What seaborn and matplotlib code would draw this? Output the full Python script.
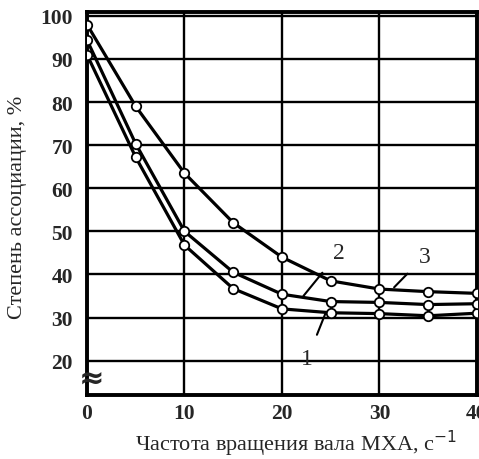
import matplotlib
matplotlib.use("Agg")
import matplotlib.pyplot as plt
import seaborn as sns
import pandas as pd

# Data
speed = [0, 5, 10, 15, 20, 25, 30, 35, 40]
curve1 = [91.0, 67.2, 46.8, 36.7, 32.0, 31.1, 30.9, 30.4, 31.0]
curve2 = [94.4, 70.3, 50.0, 40.5, 35.4, 33.7, 33.5, 33.0, 33.2]
curve3 = [98.0, 79.0, 63.5, 52.0, 44.0, 38.5, 36.6, 36.0, 35.6]
curve_names = ["1", "2", "3"]
x_ticks = [0, 10, 20, 30, 40]
y_ticks = [20, 30, 40, 50, 60, 70, 80, 90, 100]

df = pd.DataFrame({
    "x": speed * 3,
    "y": curve1 + curve2 + curve3,
    "curve": [n for n in curve_names for _ in speed],
})

sns.set_theme(style="white")
plt.rcParams["font.family"] = ["Liberation Serif", "DejaVu Serif"]

fig = plt.figure(figsize=(4.79, 4.60), dpi=100)
ax = fig.add_axes([0.1816, 0.139, 0.8142, 0.8327])

sns.lineplot(data=df, x="x", y="y", hue="curve", units="curve", estimator=None,
             palette=["black"] * 3, linewidth=2.3, marker="o", markersize=6.8,
             markerfacecolor="white", markeredgecolor="black", markeredgewidth=1.3,
             legend=False, ax=ax, zorder=3)

ax.set_xlim(0, 40)
ax.set_ylim(12, 100.9)
ax.set_xticks(x_ticks)
ax.set_yticks(y_ticks)
ax.set_xticklabels([str(t) for t in x_ticks], fontsize=15.5, fontweight="bold")
ax.set_yticklabels([str(t) for t in y_ticks], fontsize=15.5, fontweight="bold")
ax.tick_params(axis="y", length=0, pad=10)
ax.tick_params(axis="x", length=0, pad=6)
ax.grid(True, color="black", linewidth=1.7)
for s in ax.spines.values():
    s.set_color("black")
    s.set_linewidth(2.8)
ax.set_xlabel("")
ax.set_ylabel("")

# curve labels with leaders
lbl = dict(fontsize=17, ha="center", va="center")
ax.annotate("1", xy=(24.5, 31.2), xytext=(22.6, 20.4), **lbl,
            arrowprops=dict(arrowstyle="-", color="black", lw=1.5, shrinkA=8, shrinkB=0))
ax.annotate("2", xy=(22.2, 35.0), xytext=(25.8, 45.0), **lbl,
            arrowprops=dict(arrowstyle="-", color="black", lw=1.5, shrinkA=8, shrinkB=0))
ax.annotate("3", xy=(31.5, 37.0), xytext=(34.6, 44.2), **lbl,
            arrowprops=dict(arrowstyle="-", color="black", lw=1.5, shrinkA=8, shrinkB=0))

# axis break mark
ax.text(0.5, 15.8, "≈", fontsize=22, fontweight="bold", ha="center", va="center",
        family=["DejaVu Sans"], clip_on=False)

fig.text(0.618, 0.035, "Частота вращения вала МХА, с$^{-1}$", fontsize=16,
         ha="center", va="center")
fig.text(0.036, 0.55, "Степень ассоциации, %", fontsize=16,
         rotation=90, ha="center", va="center")

fig.savefig("out.png", dpi=100)
